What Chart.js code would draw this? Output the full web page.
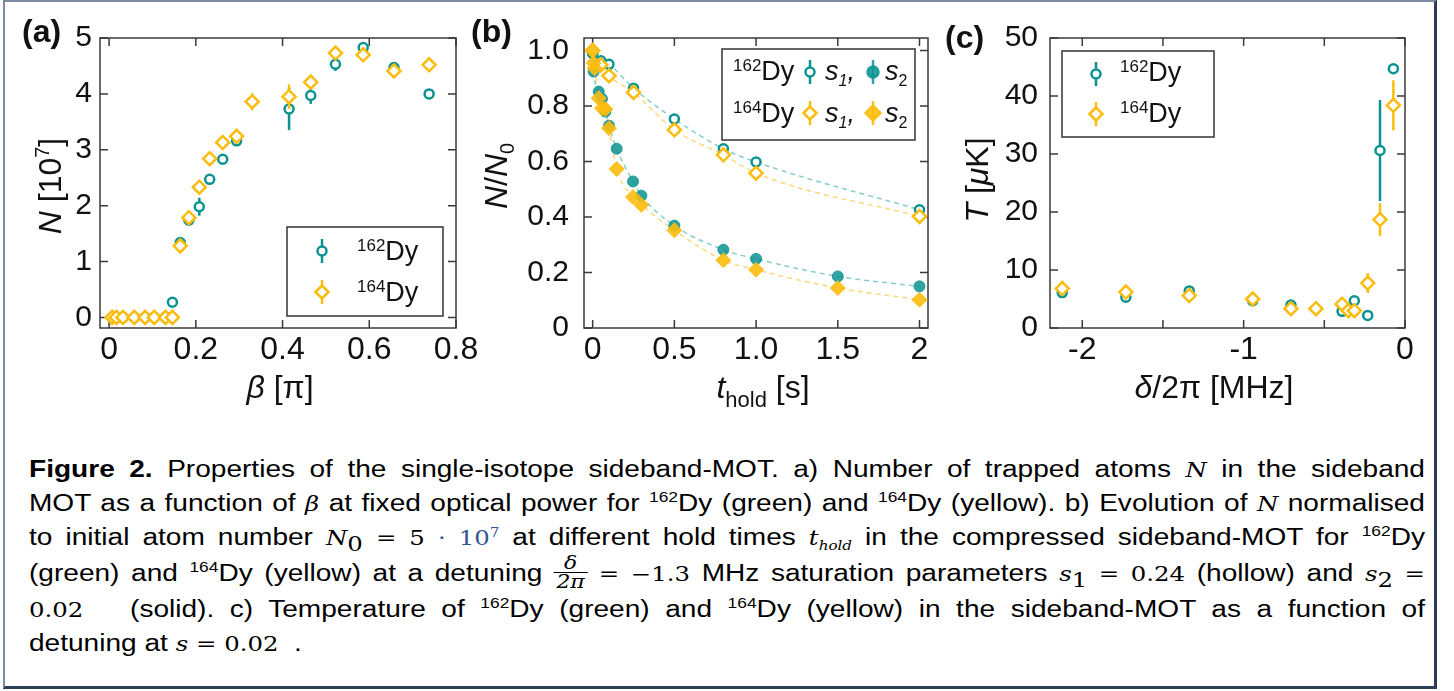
<!DOCTYPE html>
<html>
<head>
<meta charset="utf-8">
<script src="https://cdn.jsdelivr.net/npm/chart.js@4.4.0/dist/chart.umd.min.js"></script>
<style>
  body { margin: 0; background: #fff; }
  #wrap { position: relative; width: 1454px; height: 691px; overflow: hidden; background: #fff; font-family: "Liberation Sans", Arial, sans-serif; }
  canvas { position: absolute; top: 0; }
  #frame { position: absolute; left: 3px; top: 0; width: 1434px; height: 689px; box-sizing: border-box;
    border-left: 2px solid #7d8ca3; border-top: 2px solid #7d8ca3; border-right: 3px solid #2c3d58; border-bottom: 3px solid #2c3d58; pointer-events: none; }
  #caption { position: absolute; left: 29px; top: 452px; width: 1396px; font-size: 23px; color: #000; }
  .ln { height: 34px; line-height: 34px; text-align: left; white-space: nowrap; transform-origin: 0 0; }
  .ln.tall { height: 38px; line-height: 38px; }
  .m { font-family: "DejaVu Serif", serif; font-size: 20px; }
  sup, sub { font-size: 62%; line-height: 0; }
  .blue { color: #2f5597; }
  .frac { display: inline-block; vertical-align: middle; text-align: center; font-family: "DejaVu Serif", serif; font-style: italic; font-size: 18px; line-height: 18px; position: relative; top: -2px; }
  .frac span { display: block; padding: 0 2px; text-align-last: center; }
  .frac span:first-child { border-bottom: 1.5px solid #000; }
</style>
</head>
<body>
<div id="wrap">
  <canvas id="chartA" width="500" height="420" style="left:0"></canvas>
  <canvas id="chartB" width="470" height="420" style="left:470px"></canvas>
  <canvas id="chartC" width="494" height="420" style="left:940px"></canvas>
  <div id="caption">
    <div class="ln"><span class="in"><b>Figure 2.</b> Properties of the single-isotope sideband-MOT. a) Number of trapped atoms <i class="m">N</i> in the sideband</span></div>
    <div class="ln"><span class="in">MOT as a function of <i class="m">β</i> at fixed optical power for <sup>162</sup>Dy (green) and <sup>164</sup>Dy (yellow). b) Evolution of <i class="m">N</i> normalised</span></div>
    <div class="ln"><span class="in">to initial atom number <i class="m">N</i><sub class="m">0</sub> <span class="m">= 5</span> <span class="m blue">· 10<sup>7</sup></span> at different hold times <i class="m">t<sub>hold</sub></i> in the compressed sideband-MOT for <sup>162</sup>Dy</span></div>
    <div class="ln tall"><span class="in">(green) and <sup>164</sup>Dy (yellow) at a detuning <span class="frac"><span>δ</span><span>2π</span></span> <span class="m">= −1.3</span> MHz saturation parameters <i class="m">s</i><sub class="m">1</sub> <span class="m">= 0.24</span> (hollow) and <i class="m">s</i><sub class="m">2</sub> <span class="m">=</span></span></div>
    <div class="ln"><span class="in"><span class="m">0.02</span> &nbsp; (solid). c) Temperature of <sup>162</sup>Dy (green) and <sup>164</sup>Dy (yellow) in the sideband-MOT as a function of</span></div>
    <div class="ln last"><span class="in">detuning at <i class="m">s</i> <span class="m">= 0.02</span> &nbsp;.</span></div>
  </div>
  <div id="frame"></div>
</div>
<script>
// (a) atom number N [1e7] vs beta [pi]
const betaA162 = [0.007, 0.017, 0.032, 0.058, 0.083, 0.104, 0.130, 0.146, 0.164, 0.184, 0.208, 0.232, 0.262, 0.294, 0.415, 0.465, 0.522, 0.586, 0.657, 0.738];
const nA162    = [0, 0, 0, 0, 0, 0, 0, 0.27, 1.34, 1.74, 1.98, 2.47, 2.83, 3.16, 3.73, 3.97, 4.53, 4.83, 4.47, 4.00];
const errA162  = [0, 0, 0, 0, 0, 0, 0, 0.03, 0.05, 0.05, 0.16, 0.05, 0.05, 0.05, 0.38, 0.15, 0.12, 0.05, 0.05, 0.04];
const betaA164 = [0.007, 0.017, 0.032, 0.058, 0.083, 0.104, 0.130, 0.146, 0.164, 0.184, 0.208, 0.232, 0.262, 0.294, 0.330, 0.415, 0.465, 0.522, 0.586, 0.657, 0.738];
const nA164    = [0, 0, 0, 0, 0, 0, 0, 0, 1.28, 1.785, 2.33, 2.84, 3.13, 3.24, 3.86, 3.95, 4.21, 4.73, 4.70, 4.41, 4.52];
const errA164  = [0, 0, 0, 0, 0, 0, 0, 0, 0.05, 0.05, 0.05, 0.05, 0.05, 0.05, 0.15, 0.22, 0.08, 0.05, 0.05, 0.05, 0.04];

// (b) N/N0 vs hold time [s]
const tS1_162 = [0, 0.05, 0.1, 0.25, 0.5, 0.8, 1.0, 2.0];
const nS1_162 = [0.99, 0.963, 0.95, 0.864, 0.753, 0.646, 0.598, 0.426];
const tS1_164 = [0, 0.05, 0.1, 0.25, 0.5, 0.8, 1.0, 2.0];
const nS1_164 = [1.0, 0.948, 0.909, 0.849, 0.714, 0.624, 0.558, 0.402];
const tS2_162 = [0, 0.006, 0.037, 0.057, 0.078, 0.1, 0.147, 0.247, 0.298, 0.5, 0.8, 1.0, 1.5, 2.0];
const nS2_162 = [0.99, 0.924, 0.852, 0.826, 0.78, 0.729, 0.646, 0.528, 0.477, 0.369, 0.282, 0.249, 0.186, 0.15];
const tS2_164 = [0, 0.006, 0.012, 0.037, 0.057, 0.078, 0.1, 0.147, 0.247, 0.298, 0.5, 0.8, 1.0, 1.5, 2.0];
const nS2_164 = [1.0, 0.955, 0.936, 0.828, 0.792, 0.789, 0.72, 0.573, 0.472, 0.444, 0.352, 0.244, 0.21, 0.144, 0.102];

// (c) temperature [uK] vs detuning [MHz]
const dC162   = [-2.124, -1.73, -1.337, -0.944, -0.707, -0.39, -0.314, -0.231, -0.155, -0.072];
const tC162   = [6.1, 5.3, 6.4, 4.7, 3.96, 2.87, 4.7, 2.17, 30.6, 44.7];
const errC162 = [0.3, 0.3, 0.3, 0.3, 0.3, 0.3, 0.4, 0.3, 8.7, 0.5];
const dC164   = [-2.124, -1.73, -1.337, -0.944, -0.707, -0.552, -0.39, -0.351, -0.314, -0.231, -0.155, -0.072];
const tC164   = [6.8, 6.2, 5.6, 5.0, 3.33, 3.33, 4.1, 2.98, 2.98, 7.75, 18.7, 38.4];
const errC164 = [0.3, 0.3, 0.3, 0.3, 0.3, 0.3, 0.3, 1.0, 0.4, 1.7, 2.8, 4.3];

// tick values and labels
const ticksAx = [0, 0.2, 0.4, 0.6, 0.8], labelsAx = ['0', '0.2', '0.4', '0.6', '0.8'];
const ticksAy = [0, 1, 2, 3, 4, 5], labelsAy = ['0', '1', '2', '3', '4', '5'];
const ticksBx = [0, 0.5, 1, 1.5, 2], labelsBx = ['0', '0.5', '1.0', '1.5', '2'];
const ticksBy = [0, 0.2, 0.4, 0.6, 0.8, 1.0], labelsBy = ['0', '0.2', '0.4', '0.6', '0.8', '1.0'];
const ticksCx = [-2, -1.5, -1, -0.5, 0], labelsCx = ['-2', '', '-1', '', '0'];
const ticksCy = [0, 10, 20, 30, 40, 50], labelsCy = ['0', '10', '20', '30', '40', '50'];

const TEAL = '#0a9391', GOLD = '#fcbc0e';
const TEAL_SOLID = 'rgba(10,147,145,0.85)', GOLD_SOLID = 'rgba(252,188,14,0.9)';
const TEAL_FIT = '#86cdce', GOLD_FIT = '#fdd77c';
const FONT = '"Liberation Sans", Arial, sans-serif';

function pts(xs, ys) {
  return xs.map((x, i) => ({ x: x, y: ys[i] }));
}

// vertical error bars, drawn under each dataset's markers
const errorBars = {
  id: 'errorBars',
  beforeDatasetDraw(chart, args) {
    const ds = chart.data.datasets[args.index];
    if (!ds.err) return;
    const ctx = chart.ctx, xs = chart.scales.x, ys = chart.scales.y;
    ctx.save();
    ctx.strokeStyle = ds.pointBorderColor;
    ctx.lineWidth = 2.5;
    ds.data.forEach((p, i) => {
      const e = ds.err[i];
      if (!e) return;
      const px = xs.getPixelForValue(p.x);
      ctx.beginPath();
      ctx.moveTo(px, ys.getPixelForValue(p.y - e));
      ctx.lineTo(px, ys.getPixelForValue(p.y + e));
      ctx.stroke();
    });
    ctx.restore();
  }
};

// box around the plot with inward ticks on all four sides
const frameTicks = {
  id: 'frameTicks',
  beforeDatasetsDraw(chart) {
    const { ctx, chartArea: a, scales } = chart;
    ctx.save();
    ctx.strokeStyle = '#3a3a3a';
    ctx.lineWidth = 1.5;
    ctx.beginPath();
    scales.x.ticks.forEach(t => {
      const p = scales.x.getPixelForValue(t.value);
      ctx.moveTo(p, a.bottom); ctx.lineTo(p, a.bottom - 8);
      ctx.moveTo(p, a.top); ctx.lineTo(p, a.top + 8);
    });
    scales.y.ticks.forEach(t => {
      const p = scales.y.getPixelForValue(t.value);
      ctx.moveTo(a.left, p); ctx.lineTo(a.left + 8, p);
      ctx.moveTo(a.right, p); ctx.lineTo(a.right - 8, p);
    });
    ctx.stroke();
    ctx.strokeRect(a.left, a.top, a.right - a.left, a.bottom - a.top);
    ctx.restore();
  }
};

Chart.register(errorBars, frameTicks);

// text made of pieces: [text, size, style, dy]
function rich(ctx, parts, x, y, align) {
  let w = 0;
  parts.forEach(p => { ctx.font = (p[2] || '') + ' ' + p[1] + 'px ' + FONT; w += ctx.measureText(p[0]).width; });
  let cx = align === 'center' ? x - w / 2 : x;
  ctx.textAlign = 'left';
  ctx.textBaseline = 'alphabetic';
  ctx.fillStyle = '#111';
  parts.forEach(p => {
    ctx.font = (p[2] || '') + ' ' + p[1] + 'px ' + FONT;
    ctx.fillText(p[0], cx, y + (p[3] || 0));
    cx += ctx.measureText(p[0]).width;
  });
}

function vrich(ctx, parts, x, y) {
  ctx.save();
  ctx.translate(x, y);
  ctx.rotate(-Math.PI / 2);
  rich(ctx, parts, 0, 0, 'center');
  ctx.restore();
}

function marker(ctx, x, y, kind, color, solid, bar) {
  ctx.save();
  ctx.strokeStyle = color;
  ctx.fillStyle = solid ? color : '#fff';
  ctx.lineWidth = 2.5;
  if (bar) {
    ctx.beginPath(); ctx.moveTo(x, y - bar); ctx.lineTo(x, y + bar); ctx.stroke();
  }
  ctx.beginPath();
  if (kind === 'circle') {
    ctx.arc(x, y, solid ? 5.5 : 4.5, 0, Math.PI * 2);
  } else {
    const r = solid ? 7.5 : 6.5;
    ctx.moveTo(x - r, y); ctx.lineTo(x, y - r); ctx.lineTo(x + r, y); ctx.lineTo(x, y + r); ctx.closePath();
  }
  ctx.fill();
  ctx.stroke();
  ctx.restore();
}

function legendBox(ctx, x0, y0, x1, y1) {
  ctx.save();
  ctx.strokeStyle = '#333';
  ctx.lineWidth = 1.5;
  ctx.strokeRect(x0, y0, x1 - x0, y1 - y0);
  ctx.restore();
}

function axis(min, max, ticks, labels, pad, size, fit) {
  return {
    type: 'linear', min: min, max: max,
    afterBuildTicks: s => { s.ticks = ticks.map(v => ({ value: v })); },
    afterFit: fit,
    ticks: {
      callback: (v, i) => labels[i],
      font: { family: FONT, size: size }, color: '#111',
      padding: pad, maxRotation: 0, autoSkip: false
    },
    grid: { display: false, drawTicks: false },
    border: { display: false }
  };
}

function panel(id, o) {
  return new Chart(document.getElementById(id), {
    type: 'scatter',
    data: { datasets: o.datasets },
    options: {
      responsive: false, animation: false, events: [],
      layout: { padding: { top: 38, right: o.right, left: 0, bottom: 0 } },
      plugins: { legend: { display: false }, tooltip: { enabled: false } },
      scales: {
        x: axis(o.xMin, o.xMax, o.xTicks, o.xLabels, 3, 32, s => { s.height = 92; s.paddingLeft = 0; s.paddingRight = 0; }),
        y: axis(o.yMin, o.yMax, o.yTicks, o.yLabels, o.yPad, 30, s => { s.width = o.yWidth; s.paddingTop = 0; s.paddingBottom = 0; })
      }
    },
    plugins: [{ id: 'decor', afterDraw: c => o.decor(c.ctx) }]
  });
}

function hollow(data, err, style, color, order) {
  return {
    data: data, err: err, order: order,
    pointStyle: style, pointRadius: style === 'circle' ? 4.5 : 6.5, pointBorderWidth: 2.5,
    pointBorderColor: color, pointBackgroundColor: '#fff', borderColor: color
  };
}

function solid(data, style, color, order) {
  return {
    data: data, order: order,
    pointStyle: style, pointRadius: style === 'circle' ? 5.5 : 7.5, pointBorderWidth: 1,
    pointBorderColor: color, pointBackgroundColor: color, borderColor: color
  };
}

function fit(data, color) {
  return {
    data: data, order: 5, showLine: true, pointRadius: 0,
    borderColor: color, borderWidth: 1.5, borderDash: [5, 4],
    cubicInterpolationMode: 'monotone'
  };
}

// panel (a)
panel('chartA', {
  xMin: -0.021, xMax: 0.8, yMin: -0.19, yMax: 5,
  xTicks: ticksAx, xLabels: labelsAx, yTicks: ticksAy, yLabels: labelsAy,
  yWidth: 100, yPad: 8, right: 44,
  datasets: [
    hollow(pts(betaA162, nA162), errA162, 'circle', TEAL, 2),
    hollow(pts(betaA164, nA164), errA164, 'rectRot', GOLD, 1)
  ],
  decor: ctx => {
    rich(ctx, [['(a)', 32, 'bold']], 22, 42, 'left');
    rich(ctx, [['β', 32, 'italic'], [' [π]', 32]], 280, 398, 'center');
    vrich(ctx, [['N', 32, 'italic'], [' [10', 32], ['7', 20, '', -12], [']', 32]], 61, 186);
    legendBox(ctx, 287, 227, 443, 316);
    marker(ctx, 322, 251, 'circle', TEAL, false, 12);
    marker(ctx, 322, 292, 'diamond', GOLD, false, 12);
    rich(ctx, [['162', 17, '', -9], ['Dy', 27]], 357, 260, 'left');
    rich(ctx, [['164', 17, '', -9], ['Dy', 27]], 357, 301, 'left');
  }
});

// panel (b)
panel('chartB', {
  xMin: -0.053, xMax: 2.052, yMin: 0, yMax: 1.045,
  xTicks: ticksBx, xLabels: labelsBx, yTicks: ticksBy, yLabels: labelsBy,
  yWidth: 114, yPad: 15, right: 12,
  datasets: [
    fit(pts(tS1_162, nS1_162), TEAL_FIT),
    fit(pts(tS1_164, nS1_164), GOLD_FIT),
    fit(pts(tS2_162, nS2_162), TEAL_FIT),
    fit(pts(tS2_164, nS2_164), GOLD_FIT),
    hollow(pts(tS1_162, nS1_162), null, 'circle', TEAL, 4),
    solid(pts(tS2_162, nS2_162), 'circle', TEAL_SOLID, 3),
    hollow(pts(tS1_164, nS1_164), null, 'rectRot', GOLD, 2),
    solid(pts(tS2_164, nS2_164), 'rectRot', GOLD_SOLID, 1)
  ],
  decor: ctx => {
    rich(ctx, [['(b)', 32, 'bold']], 1, 42, 'left');
    rich(ctx, [['t', 32, 'italic'], ['hold', 22, '', 9], [' [s]', 32]], 293, 398, 'center');
    vrich(ctx, [['N', 32, 'italic'], ['/', 32], ['N', 32, 'italic'], ['0', 20, '', 7]], 37, 176);
    legendBox(ctx, 252, 49, 445, 140);
    marker(ctx, 340, 72, 'circle', TEAL, false, 12);
    marker(ctx, 403, 72, 'circle', TEAL_SOLID, true, 12);
    marker(ctx, 340, 113, 'diamond', GOLD, false, 12);
    marker(ctx, 403, 113, 'diamond', GOLD_SOLID, true, 12);
    rich(ctx, [['162', 17, '', -9], ['Dy', 27]], 263, 80, 'left');
    rich(ctx, [['164', 17, '', -9], ['Dy', 27]], 263, 122, 'left');
    rich(ctx, [['s', 27, 'italic'], ['1', 16, 'italic', 6], [',', 27, 'italic']], 355, 80, 'left');
    rich(ctx, [['s', 27, 'italic'], ['1', 16, 'italic', 6], [',', 27, 'italic']], 355, 122, 'left');
    rich(ctx, [['s', 27, 'italic'], ['2', 16, '', 6]], 415, 80, 'left');
    rich(ctx, [['s', 27, 'italic'], ['2', 16, '', 6]], 415, 122, 'left');
  }
});

// panel (c)
panel('chartC', {
  xMin: -2.2, xMax: 0, yMin: 0, yMax: 50,
  xTicks: ticksCx, xLabels: labelsCx, yTicks: ticksCy, yLabels: labelsCy,
  yWidth: 110, yPad: 12, right: 29,
  datasets: [
    hollow(pts(dC162, tC162), errC162, 'circle', TEAL, 2),
    hollow(pts(dC164, tC164), errC164, 'rectRot', GOLD, 1)
  ],
  decor: ctx => {
    rich(ctx, [['(c)', 32, 'bold']], 5, 48, 'left');
    rich(ctx, [['δ', 32, 'italic'], ['/2π [MHz]', 32]], 274, 398, 'center');
    vrich(ctx, [['T', 32, 'italic'], [' [', 32], ['μ', 32, 'italic'], ['K]', 32]], 48, 180);
    legendBox(ctx, 122, 51, 274, 137);
    marker(ctx, 156, 74, 'circle', TEAL, false, 12);
    marker(ctx, 156, 114, 'diamond', GOLD, false, 12);
    rich(ctx, [['162', 17, '', -9], ['Dy', 27]], 180, 81, 'left');
    rich(ctx, [['164', 17, '', -9], ['Dy', 27]], 180, 122, 'left');
  }
});

// caption text in the reference is set wider than its height; stretch each line the same way
(function stretchCaption() {
  const W = 1396;
  const lines = Array.from(document.querySelectorAll('#caption .ln'));
  let k = 1.22;
  lines.forEach(l => {
    if (l.classList.contains('last')) return;
    const w = l.querySelector('.in').getBoundingClientRect().width;
    if (w > 0) k = Math.min(k, W / w);
  });
  lines.forEach(l => {
    l.style.width = (W / k) + 'px';
    l.style.transform = 'scaleX(' + k + ')';
    if (!l.classList.contains('last')) {
      l.style.textAlign = 'justify';
      l.style.textAlignLast = 'justify';
    }
  });
})();
</script>
</body>
</html>
